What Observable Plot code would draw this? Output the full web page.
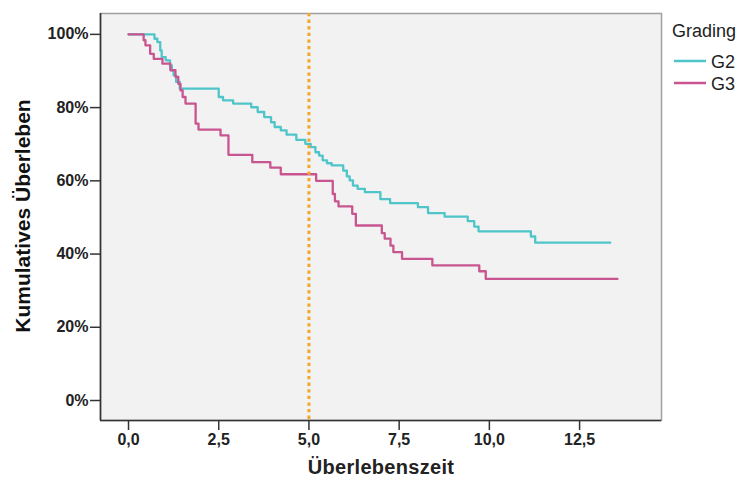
<!DOCTYPE html>
<html><head><meta charset="utf-8">
<script src="https://cdn.jsdelivr.net/npm/d3@7"></script>
<script src="https://cdn.jsdelivr.net/npm/@observablehq/plot@0.6"></script>
<style>body{margin:0;background:#fff}</style>
</head><body><div id="chart"></div>
<script>
const groups = ["G2", "G3"];
const groupColors = ["#4fc5c9", "#c85590"];
const g2Time = [0, 0.72, 0.8, 0.88, 0.92, 1.03, 1.15, 1.2, 1.25, 1.32, 1.42, 2.5, 2.62, 2.9, 3.4, 3.58, 3.76, 3.95, 4.05, 4.22, 4.38, 4.65, 4.9, 5.05, 5.18, 5.28, 5.38, 5.5, 5.63, 5.95, 6.05, 6.13, 6.22, 6.35, 6.55, 6.98, 7.25, 8.02, 8.3, 8.76, 9.4, 9.58, 9.7, 11.15, 11.27, 13.35];
const g2Surv = [1, 0.988, 0.979, 0.956, 0.938, 0.929, 0.915, 0.902, 0.888, 0.87, 0.852, 0.829, 0.82, 0.811, 0.801, 0.788, 0.774, 0.76, 0.747, 0.738, 0.726, 0.712, 0.701, 0.692, 0.678, 0.669, 0.656, 0.648, 0.642, 0.628, 0.612, 0.601, 0.587, 0.578, 0.569, 0.55, 0.539, 0.528, 0.512, 0.502, 0.49, 0.475, 0.462, 0.448, 0.431, 0.431];
const g3Time = [0, 0.42, 0.47, 0.6, 0.7, 0.94, 1.16, 1.3, 1.38, 1.44, 1.5, 1.58, 1.86, 1.94, 2.55, 2.77, 3.43, 3.93, 4.22, 5.2, 5.66, 5.72, 5.82, 6.2, 6.3, 7.02, 7.1, 7.26, 7.34, 7.58, 8.42, 9.72, 9.9, 13.55];
const g3Surv = [1, 0.984, 0.97, 0.947, 0.933, 0.92, 0.902, 0.884, 0.865, 0.847, 0.829, 0.811, 0.756, 0.74, 0.724, 0.671, 0.651, 0.636, 0.618, 0.6, 0.564, 0.544, 0.53, 0.51, 0.478, 0.457, 0.442, 0.423, 0.405, 0.387, 0.369, 0.353, 0.332, 0.332];
const xTicks = [0, 2.5, 5, 7.5, 10, 12.5];
const yTicks = [0, 0.2, 0.4, 0.6, 0.8, 1];
const refLine = [5];

const data = [
  ...g2Time.map((t, i) => ({group: "G2", t, s: g2Surv[i]})),
  ...g3Time.map((t, i) => ({group: "G3", t, s: g3Surv[i]}))
];
const xDomain = [-0.776, 14.77];
const yDomain = [-0.0546, 1.057];
const fmtX = d => d.toFixed(1).replace(".", ",");

const plot = Plot.plot({
  width: 740, height: 485,
  marginLeft: 100, marginRight: 79, marginTop: 13, marginBottom: 65,
  style: {fontFamily: "'Liberation Sans', Arial, sans-serif", background: "#fff", overflow: "visible"},
  x: {domain: xDomain, label: null},
  y: {domain: yDomain, label: null},
  color: {domain: groups, range: groupColors},
  marks: [
    Plot.frame({fill: "#f2f2f2", stroke: "#a0a0a0", strokeWidth: 1.5}),
    Plot.line(data, {x: "t", y: "s", z: "group", stroke: "group", curve: "step-after", strokeWidth: 2.3}),
    Plot.ruleX(refLine, {stroke: "#f5a52a", strokeWidth: 3, strokeDasharray: "3.3,3.3"}),
    Plot.ruleX([xDomain[0]], {stroke: "#333", strokeWidth: 1.6}),
    Plot.ruleY([yDomain[0]], {stroke: "#333", strokeWidth: 1.6}),
    Plot.axisX({ticks: xTicks, tickFormat: fmtX, tickSize: 10, tickPadding: 3, fontSize: 16, fontWeight: "bold", stroke: "#333", strokeWidth: 1.5, color: "#222", label: null}),
    Plot.axisY({ticks: yTicks, tickFormat: d3.format(".0%"), tickSize: 10, tickPadding: 2, fontSize: 16, fontWeight: "bold", stroke: "#333", strokeWidth: 1.5, color: "#222", label: null})
  ]
});

const svg = d3.select(plot);
svg.append("text").attr("transform", "translate(30,216) rotate(-90)")
  .attr("text-anchor", "middle").attr("font-size", 21).attr("font-weight", "bold").attr("fill", "#111")
  .text("Kumulatives Überleben");
svg.append("text").attr("x", 381).attr("y", 474)
  .attr("text-anchor", "middle").attr("font-size", 20).attr("font-weight", "bold").attr("fill", "#222")
  .attr("letter-spacing", "0.3px")
  .text("Überlebenszeit");
const leg = svg.append("g").attr("text-anchor", "start");
leg.append("text").attr("x", 672).attr("y", 37).attr("text-anchor", "start").attr("font-size", 18).attr("fill", "#222").text("Grading");
groups.forEach((g, i) => {
  const y = 61 + i * 22;
  leg.append("line").attr("x1", 674).attr("x2", 706).attr("y1", y).attr("y2", y)
    .attr("stroke", groupColors[i]).attr("stroke-width", 2.5);
  leg.append("text").attr("x", 711).attr("y", y + 6.5).attr("text-anchor", "start").attr("font-size", 18).attr("fill", "#222").text(g);
});
document.getElementById("chart").appendChild(plot);
</script>
</body></html>
